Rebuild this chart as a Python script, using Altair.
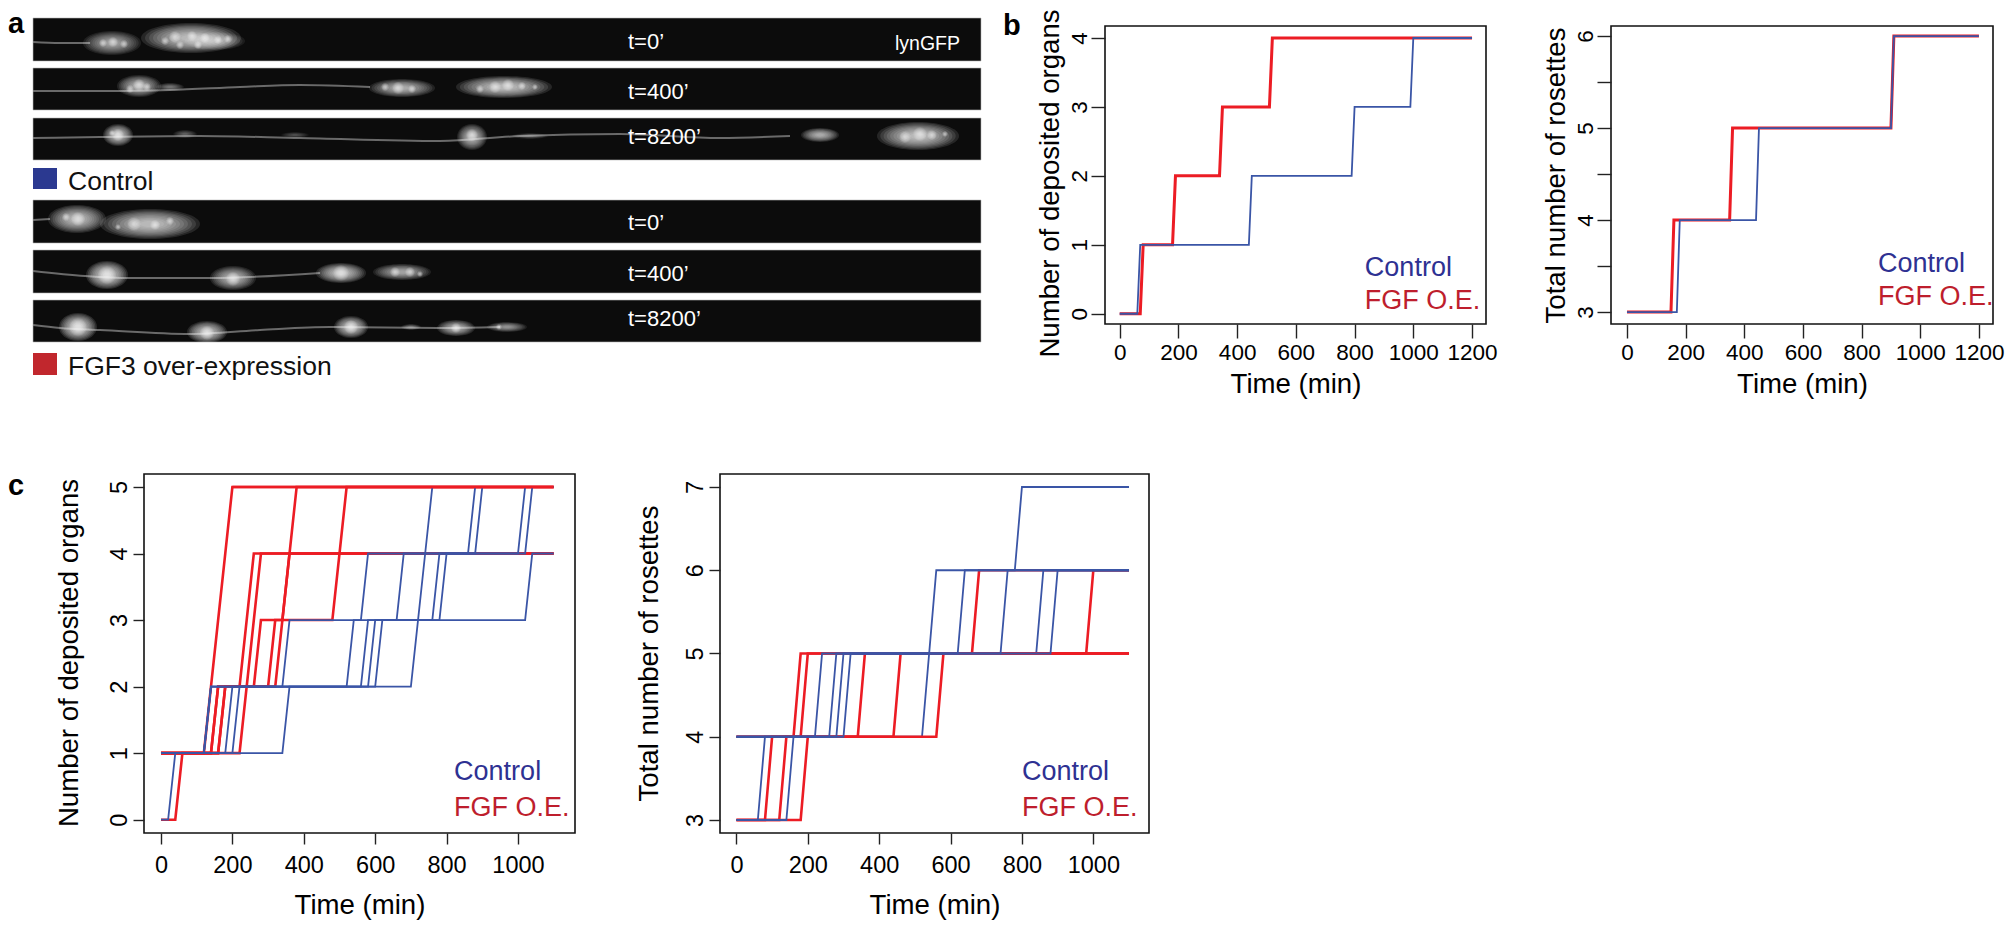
import altair as alt
import pandas as pd

BLUE = "#3a55a6"
RED = "#ec1c24"
TXT_BLUE = "#2e3192"
TXT_RED = "#be1e2d"
FONT = "Liberation Sans"

# ---- panel b: (group, z-order, start level, rise times) ----
b1_series = [
    ("FGF", 0, 0, [70, 180, 340, 510]),
    ("Control", 1, 0, [60, 440, 790, 990]),
]
b2_series = [
    ("FGF", 0, 3, [150, 350, 900]),
    ("Control", 1, 3, [170, 440, 900]),
]
b_end = 1200
b_step = 10

# ---- panel c (optional fifth item: time at which the trace is drawn from) ----
c1_series = [
    ("FGF", 0, 0, [40, 140, 220, 240]),
    ("FGF", 0, 1, [160, 240, 260]),
    ("FGF", 0, 1, [160, 320, 340]),
    ("FGF", 0, 1, [140, 300, 480, 500]),
    ("FGF", 0, 1, [120, 140, 160, 180]),
    ("FGF", 0, 1, [220, 260, 340, 360]),
    ("Control", 1, 0, [20, 120, 340, 660, 860]),
    ("Control", 1, 1, [120, 520, 560, 880]),
    ("Control", 1, 1, [120, 560, 760, 1000]),
    ("Control", 1, 1, [180, 580, 780, 1020]),
    ("Control", 1, 1, [200, 600, 1020]),
    ("Control", 1, 1, [340, 700, 720, 740]),
    ("FGF", 2, 5, [], 200),
]
c2_series = [
    ("FGF", 0, 4, [160, 660]),
    ("FGF", 0, 4, [180, 980]),
    ("Control", 1, 4, [520, 840]),
    ("FGF", 2, 3, [80, 340]),
    ("FGF", 2, 3, [120, 440]),
    ("FGF", 2, 3, [180, 560]),
    ("Control", 3, 3, [60, 220, 540, 780]),
    ("Control", 3, 3, [140, 260, 620]),
    ("Control", 3, 4, [280, 740]),
    ("Control", 3, 4, [300, 880]),
]
c_end = 1100
c_step = 20

# ---- panel a: image strips (image pixels) ----
strips_top = [19, 69, 119, 201, 251, 301]
strips_bottom = [62, 111, 161, 244, 294, 343]
strip_left = 33
strip_right = 981
time_labels = ["t=0\u2019", "t=400\u2019", "t=8200\u2019", "t=0\u2019", "t=400\u2019", "t=8200\u2019"]
time_y = [43, 93, 138, 224, 275, 320]

# blobs: x, y, rx, ry, strength
blobs = [
    (112, 44, 29, 12, 0.75), (191, 39, 50, 15, 1.0), (215, 42, 30, 9, 0.6),
    (139, 87, 22, 11, 0.85), (170, 88, 14, 4, 0.45), (402, 89, 33, 9, 0.85), (504, 88, 48, 11, 1.0),
    (118, 136, 15, 11, 1.0), (185, 135, 12, 4, 0.35), (295, 136, 14, 3, 0.3), (472, 138, 15, 13, 0.9),
    (530, 137, 18, 3, 0.35), (820, 136, 19, 7, 0.85), (918, 137, 41, 14, 1.0),
    (77, 220, 29, 14, 0.95), (150, 225, 50, 15, 1.0),
    (107, 276, 21, 14, 1.1), (233, 279, 23, 12, 0.9), (341, 274, 25, 10, 1.0), (402, 273, 29, 8, 0.8),
    (78, 328, 19, 14, 1.1), (207, 333, 20, 11, 1.0), (351, 328, 17, 11, 1.0),
    (411, 328, 10, 3, 0.45), (456, 329, 19, 8, 0.85), (507, 328, 20, 5, 0.65),
]
# bright, mottled spots: x, y, radius
cores = [
    (113, 43, 5), (103, 44, 4), (124, 45, 4), (175, 38, 6), (192, 37, 5), (205, 39, 5), (180, 46, 4), (218, 41, 4),
    (165, 42, 4), (198, 46, 4), (228, 40, 4),
    (139, 86, 6), (147, 88, 4), (130, 90, 4), (398, 89, 6), (412, 90, 4), (385, 88, 4), (495, 88, 6), (508, 86, 6),
    (522, 87, 4), (480, 90, 4), (535, 88, 3),
    (118, 136, 6), (112, 134, 3), (472, 136, 6), (905, 138, 6), (920, 135, 7), (932, 136, 5), (945, 135, 3),
    (78, 220, 7), (66, 218, 4), (134, 225, 7), (155, 226, 5), (170, 222, 4), (118, 228, 3),
    (107, 276, 9), (233, 280, 7), (341, 274, 8), (395, 273, 5), (410, 273, 5), (420, 275, 3),
    (78, 328, 9), (207, 334, 7), (351, 328, 7), (456, 329, 5), (499, 328, 3),
]
tails = [
    [(33, 43), (60, 44), (90, 44)],
    [(33, 92), (110, 92), (170, 91), (240, 88), (300, 86), (370, 88)],
    [(33, 139), (100, 138), (200, 137), (300, 139), (440, 142), (520, 137), (620, 135), (720, 139), (790, 137)],
    [(33, 221), (50, 220)],
    [(33, 272), (85, 277), (130, 279), (210, 279), (320, 274)],
    [(33, 326), (60, 329), (100, 331), (190, 335), (260, 331), (330, 328), (440, 329), (500, 328)],
]
ring_scale = [1.0, 0.92, 0.84, 0.76, 0.68, 0.6, 0.52, 0.44, 0.36, 0.28, 0.2]


def ellipse(rx, ry):
    return f"M{-rx},0A{rx},{ry} 0 1 0 {rx},0A{rx},{ry} 0 1 0 {-rx},0Z"


def step_rows(series, end, step):
    rows = []
    for i, item in enumerate(series):
        group, z, start, rises = item[:4]
        begin = item[4] if len(item) > 4 else 0
        level = start
        rows.append(dict(id=i, group=group, z=z, t=begin, v=level))
        for t in rises:
            rows.append(dict(id=i, group=group, z=z, t=t, v=level))
            level += 1
            rows.append(dict(id=i, group=group, z=z, t=t + step, v=level))
        rows.append(dict(id=i, group=group, z=z, t=end, v=level))
    return pd.DataFrame(rows)


def step_panel(series, end, step, xdom, ydom, width, height, yticks, ylabels,
               xticks, xtitle_pad, ytitle, ytitle_pad, legend_x, legend_y,
               tick_font, tick_len, xlab_pad, ylab_pad, red_w, blue_w, title_y):
    df = step_rows(series, end, step)
    xs = alt.Scale(domain=xdom, nice=False, zero=False)
    ys = alt.Scale(domain=ydom, nice=False, zero=False)
    xaxis = alt.Axis(values=xticks, title="Time (min)", grid=False, labelFont=FONT, titleFont=FONT,
                     labelFontSize=tick_font, titleFontSize=27.6, titleFontWeight="normal",
                     labelColor="black", titleColor="black", domain=False, tickColor="#222",
                     tickSize=tick_len, tickWidth=1.4, labelPadding=xlab_pad, titlePadding=xtitle_pad,
                     labelFlush=False, labelOverlap=False, format="d")
    label_expr = "indexof(" + str(ylabels) + ", datum.value) >= 0 ? format(datum.value, 'd') : ''"
    yaxis = alt.Axis(values=yticks, title=ytitle, grid=False, labelFont=FONT, titleFont=FONT,
                     labelFontSize=tick_font, titleFontSize=27.6, titleFontWeight="normal",
                     labelColor="black", titleColor="black", domain=False, tickColor="#222",
                     tickSize=tick_len, tickWidth=1.4, labelAngle=270, labelAlign="center",
                     labelBaseline="bottom", labelPadding=ylab_pad, titlePadding=ytitle_pad,
                     labelExpr=label_expr, labelOverlap=False, titleY=title_y)
    layers = []
    for z in sorted(set(df["z"])):
        part = df[df["z"] == z]
        group = part["group"].iloc[0]
        layers.append(
            alt.Chart(part).mark_line(
                color=RED if group == "FGF" else BLUE,
                strokeWidth=red_w if group == "FGF" else blue_w,
                strokeJoin="miter", strokeCap="butt",
            ).encode(
                x=alt.X("t:Q", scale=xs, axis=xaxis),
                y=alt.Y("v:Q", scale=ys, axis=yaxis),
                detail="id:N", order="t:Q",
            )
        )
    legend = pd.DataFrame({"t": [legend_x, legend_x], "v": legend_y,
                           "label": ["Control", "FGF O.E."], "c": [TXT_BLUE, TXT_RED]})
    layers.append(
        alt.Chart(legend).mark_text(align="left", baseline="middle", font=FONT, fontSize=27).encode(
            x=alt.X("t:Q", scale=xs, axis=xaxis),
            y=alt.Y("v:Q", scale=ys, axis=yaxis),
            text="label:N",
            color=alt.Color("c:N", scale=None),
        )
    )
    return alt.layer(*layers).properties(
        width=width, height=height,
        view=alt.ViewConfig(stroke="#111", strokeWidth=1.6, fill=None),
    )


# ---- panel a ----
A_X = alt.Scale(domain=[8, 980], nice=False, zero=False)
A_Y = alt.Scale(domain=[325, 27], nice=False, zero=False)
ax_x = alt.X("x:Q", scale=A_X, axis=None)
ax_y = alt.Y("y:Q", scale=A_Y, axis=None)

strip_df = pd.DataFrame({"x": [strip_left] * 6, "x2": [strip_right] * 6,
                         "y": strips_top, "y2": strips_bottom})
strip_layer = alt.Chart(strip_df).mark_rect(color="#0c0c0c", stroke="#b5b5b5", strokeWidth=0.6).encode(
    x=ax_x, x2="x2:Q", y=ax_y, y2="y2:Q")

tail_rows = []
for i, path in enumerate(tails):
    for j, (x, y) in enumerate(path):
        tail_rows.append(dict(id=i, o=j, x=x, y=y))
tail_layer = alt.Chart(pd.DataFrame(tail_rows)).mark_line(
    color="#8a8a8a", strokeWidth=2, interpolate="monotone", opacity=0.75
).encode(x=ax_x, y=ax_y, detail="id:N", order="o:Q")

blob_rows = []
for x, y, rx, ry, s in blobs:
    for f in ring_scale:
        blob_rows.append(dict(x=x, y=y, path=ellipse(round(rx * f, 1), round(ry * f, 1)), a=0.11 * s))
for x, y, r in cores:
    for f in ring_scale:
        blob_rows.append(dict(x=x, y=y, path=ellipse(round(r * f, 1), round(r * f, 1)), a=0.07))
blob_layer = alt.Chart(pd.DataFrame(blob_rows)).mark_point(filled=True, size=4, color="white", strokeWidth=0).encode(
    x=ax_x, y=ax_y, shape=alt.Shape("path:N", scale=None),
    opacity=alt.Opacity("a:Q", scale=None),
)

time_df = pd.DataFrame({"x": [628] * 6, "y": time_y, "label": time_labels})
time_layer = alt.Chart(time_df).mark_text(align="left", baseline="middle", font=FONT, fontSize=22, color="white").encode(
    x=ax_x, y=ax_y, text="label:N")
lyn_layer = alt.Chart(pd.DataFrame({"x": [895], "y": [45], "label": ["lynGFP"]})).mark_text(
    align="left", baseline="middle", font=FONT, fontSize=19.5, color="white").encode(x=ax_x, y=ax_y, text="label:N")

sq_df = pd.DataFrame({"x": [33, 33], "x2": [57, 57], "y": [169, 354], "y2": [190, 376],
                      "c": ["#2b3990", "#c1272d"]})
sq_layer = alt.Chart(sq_df).mark_rect().encode(
    x=ax_x, x2="x2:Q", y=ax_y, y2="y2:Q",
    color=alt.Color("c:N", scale=None))
sq_text = alt.Chart(pd.DataFrame({"x": [68, 68], "y": [183, 368], "label": ["Control", "FGF3 over-expression"]})).mark_text(
    align="left", baseline="middle", font=FONT, fontSize=26.5, color="#111").encode(x=ax_x, y=ax_y, text="label:N")
letters = alt.Chart(pd.DataFrame({"x": [8, 1003, 8], "y": [25, 27, 487], "label": ["a", "b", "c"]})).mark_text(
    align="left", baseline="middle", font=FONT, fontSize=29, fontWeight="bold", color="black").encode(
    x=ax_x, y=ax_y, text="label:N")

panel_a = alt.layer(strip_layer, tail_layer, blob_layer, time_layer, lyn_layer,
                    sq_layer, sq_text, letters).properties(
    width=972, height=298, view=alt.ViewConfig(stroke=None, fill=None))

panel_b1 = step_panel(b1_series, b_end, b_step, [-50, 1247.6], [-0.149, 4.174], 381, 298,
                      [0, 1, 2, 3, 4], [0, 1, 2, 3, 4], [0, 200, 400, 600, 800, 1000, 1200], 7,
                      "Number of deposited organs", 4, 835, [0.667, 0.19], 22.5, 14, 3, 0, 3, 1.8, 157)
panel_b2 = step_panel(b2_series, b_end, b_step, [-54.5, 1248], [2.87, 6.109], 382, 298,
                      [3, 3.5, 4, 4.5, 5, 5.5, 6], [3, 4, 5, 6], [0, 200, 400, 600, 800, 1000, 1200], 7,
                      "Total number of rosettes", 4, 856, [3.52, 3.163], 22.5, 14, 3, 0, 3, 1.8, 149)
panel_c1 = step_panel(c1_series, c_end, c_step, [-47.6, 1159.7], [-0.2, 5.195], 431, 359,
                      [0, 1, 2, 3, 4, 5], [0, 1, 2, 3, 4, 5], [0, 200, 400, 600, 800, 1000], 15,
                      "Number of deposited organs", 24, 821, [0.72, 0.18], 23.5, 11, 9, 1.5, 2.6, 1.8, 178.5)
panel_c2 = step_panel(c2_series, c_end, c_step, [-46, 1156], [2.844, 7.156], 429, 359,
                      [3, 4, 5, 6, 7], [3, 4, 5, 6, 7], [0, 200, 400, 600, 800, 1000], 15,
                      "Total number of rosettes", 20, 800, [3.577, 3.144], 23.5, 11, 9, 1.5, 2.6, 1.8, 179)

spacer = alt.Chart(pd.DataFrame({"x": [0]})).mark_point(opacity=0).encode(
    x=alt.X("x:Q", axis=None)).properties(width=136, height=359, view=alt.ViewConfig(stroke=None, fill=None))

row1 = alt.hconcat(panel_a, panel_b1, panel_b2, spacing=125, bounds="flush")
row2_inner = alt.hconcat(panel_c1, panel_c2, spacing=145, bounds="flush")
row2 = alt.hconcat(spacer, row2_inner, spacing=0, bounds="flush")

chart = alt.vconcat(row1, row2, spacing=448, bounds="flush").properties(
    padding={"left": 0, "top": 0, "right": 0, "bottom": 0}
).configure_view(stroke=None).resolve_scale(x="independent", y="independent")

chart.save("out.html", embed_options={"renderer": "svg", "actions": False})
